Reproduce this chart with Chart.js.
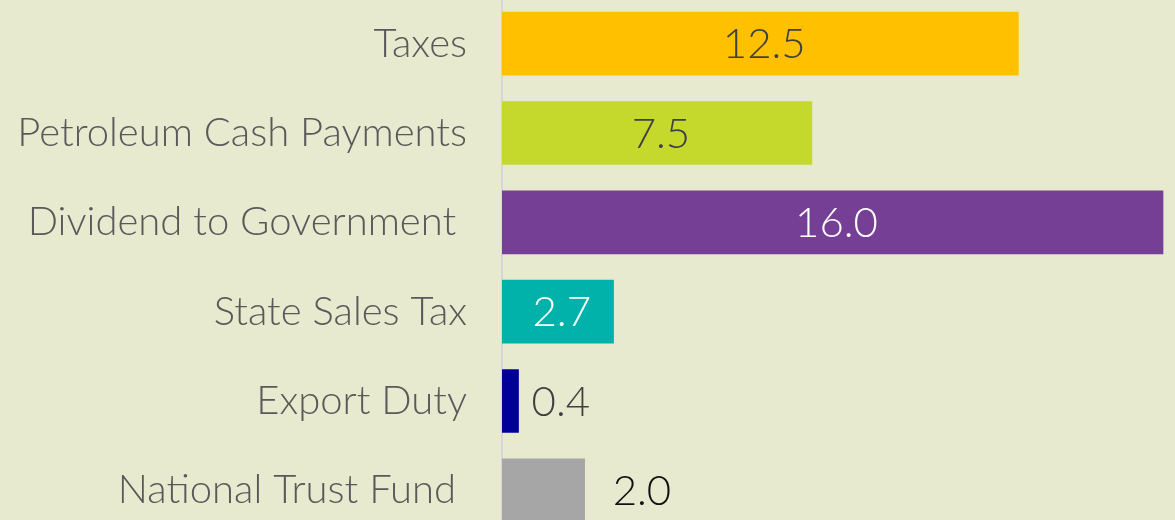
<!DOCTYPE html>
<html>
<head>
<meta charset="utf-8">
<script src="https://cdn.jsdelivr.net/npm/chart.js@4/dist/chart.umd.min.js"></script>
<style>
  html, body { margin: 0; padding: 0; background: #e7eacf; overflow: hidden; }
  #wrap { position: absolute; left: 0; top: -1px; width: 1175px; height: 536px; }
</style>
</head>
<body>
<div id="wrap"><canvas id="chart"></canvas></div>
<script>
// revenue streams, values as shown on the bars
const categories = ["Taxes", "Petroleum Cash Payments", "Dividend to Government ", "State Sales Tax", "Export Duty", "National Trust Fund "];
const values = [12.5, 7.5, 16.0, 2.7, 0.4, 2.0];

const barColors = ["#ffc000", "#c5d92d", "#763f96", "#00b2a9", "#000099", "#a6a6a6"];
const labelColors = ["#404040", "#404040", "#ffffff", "#ffffff", "#404040", "#111111"];
// 0 = centred inside bar, otherwise gap after bar end
const labelGap = [0, 0, 0, 0, 13, 28];

const FONT = "Lato, 'Open Sans', sans-serif";

const valueLabels = {
  id: "valueLabels",
  afterDatasetsDraw(chart) {
    const ctx = chart.ctx;
    const meta = chart.getDatasetMeta(0);
    ctx.save();
    ctx.font = "300 42px " + FONT;
    ctx.textBaseline = "middle";
    meta.data.forEach((bar, i) => {
      const txt = values[i].toFixed(1);
      ctx.fillStyle = labelColors[i];
      if (labelGap[i] === 0) {
        ctx.textAlign = "center";
        ctx.fillText(txt, (bar.base + bar.x) / 2 + 4, bar.y + 1);
      } else {
        ctx.textAlign = "left";
        ctx.fillText(txt, bar.x + labelGap[i], bar.y + 1);
      }
    });
    ctx.restore();
  }
};

new Chart(document.getElementById("chart"), {
  type: "bar",
  data: {
    labels: categories,
    datasets: [{
      data: values,
      backgroundColor: barColors,
      barThickness: 63,
      borderWidth: 0
    }]
  },
  options: {
    indexAxis: "y",
    responsive: true,
    maintainAspectRatio: false,
    animation: false,
    layout: { padding: 0 },
    plugins: {
      legend: { display: false },
      tooltip: { enabled: false }
    },
    scales: {
      x: {
        display: false,
        min: 0,
        max: 16.29
      },
      y: {
        afterFit: (scale) => {
          scale.width = 502;
          scale.paddingTop = 0;
          scale.paddingBottom = 0;
        },
        grid: { display: false, drawTicks: false },
        border: { display: true, color: "#d6d6d6", width: 2 },
        ticks: {
          padding: 35,
          color: "#595959",
          font: { family: FONT, size: 40, weight: "300" }
        }
      }
    }
  },
  plugins: [valueLabels]
});
</script>
</body>
</html>
